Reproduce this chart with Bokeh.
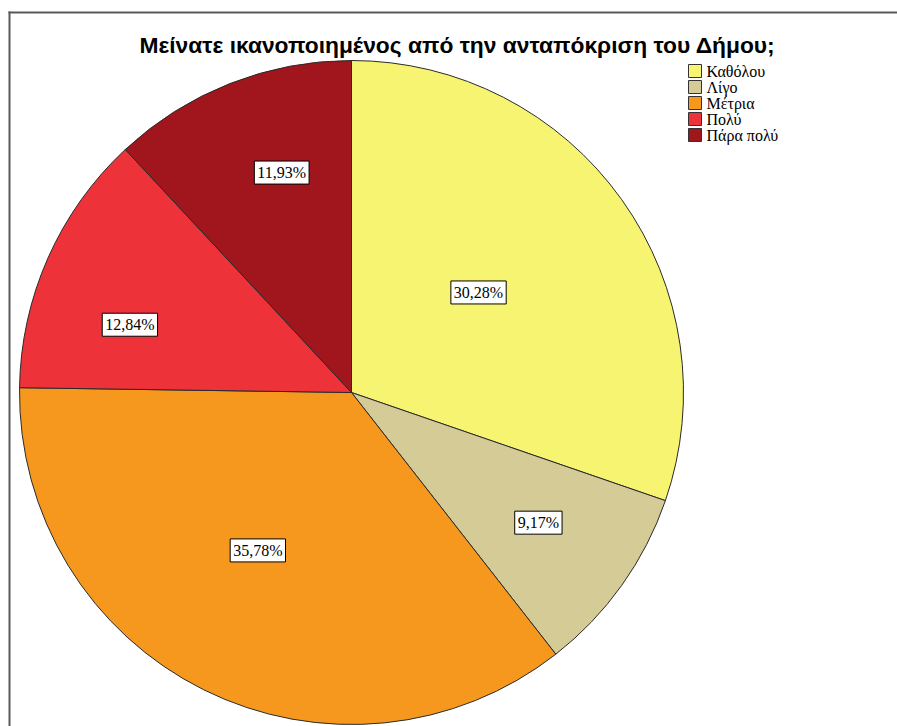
import math
from bokeh.plotting import figure
from bokeh.models import ColumnDataSource, Range1d
from bokeh.core.properties import value
from bokeh.embed import file_html
from bokeh.resources import INLINE

# ---- data ----
title = "Μείνατε ικανοποιημένος από την ανταπόκριση του Δήμου;"
categories = ["Καθόλου", "Λίγο", "Μέτρια", "Πολύ", "Πάρα πολύ"]
percents = [30.28, 9.17, 35.78, 12.84, 11.93]
colors = ["#F7F472", "#D4CB97", "#F7981E", "#EE3239", "#A0161C"]
# label placement inside each slice: fraction of radius, fraction of the slice sweep
label_radius = [0.487, 0.686, 0.553, 0.698, 0.695]
label_sweep = [0.475, 0.48, 0.533, 0.35, 0.59]

# ---- geometry (pixel layout) ----
W, H = 897, 726
R_PX = 332.0
CX, CY = 351, 392          # pie centre in canvas pixels

def px_x(x):
    return (x - CX) / R_PX

def px_y(y):
    return (CY - y) / R_PX

p = figure(width=W, height=H, output_backend="svg", toolbar_location=None,
           x_range=Range1d(px_x(0), px_x(W)), y_range=Range1d(px_y(H), px_y(0)),
           min_border=0)
p.axis.visible = False
p.grid.visible = False
p.outline_line_color = None
p.background_fill_color = "white"
p.border_fill_color = "white"

# wedges
total = sum(percents)
starts, ends, lab_ang = [], [], []
cum = 0.0
for v, f in zip(percents, label_sweep):
    a0 = math.pi / 2 - cum / total * 2 * math.pi
    cum += v
    a1 = math.pi / 2 - cum / total * 2 * math.pi
    starts.append(a0)
    ends.append(a1)
    lab_ang.append(a0 + (a1 - a0) * f)

src = ColumnDataSource(dict(start=starts, end=ends, color=colors, cat=categories))
p.wedge(x=0, y=0, radius=1.0, start_angle="start", end_angle="end",
        direction="clock", fill_color="color", line_color="#2a2a2a",
        line_width=1, source=src)

# slice labels
lab = ColumnDataSource(dict(
    x=[r * math.cos(m) for r, m in zip(label_radius, lab_ang)],
    y=[r * math.sin(m) for r, m in zip(label_radius, lab_ang)],
    text=[("%.2f%%" % v).replace(".", ",") for v in percents],
))
p.text(x="x", y="y", text="text", source=lab,
       text_align="center", text_baseline="middle",
       text_font=value("Liberation Serif"), text_font_size="16px",
       text_color="black", padding=3,
       background_fill_color="white", border_line_color="black",
       border_line_width=1)

# title
p.text(x=[px_x(457)], y=[px_y(44)], text=[title],
       text_align="center", text_baseline="middle",
       text_font=value("Liberation Sans"), text_font_style="bold",
       text_font_size="22.8px", text_color="black")

# legend (manual)
lx = [px_x(694.5)] * len(categories)
ly = [px_y(70.5 + 16 * i) for i in range(len(categories))]
p.rect(x=lx, y=ly, width=13, height=13, width_units="screen", height_units="screen",
       fill_color=colors, line_color="#333333", line_width=1)
p.text(x=[px_x(706)] * len(categories), y=ly, text=categories,
       text_align="left", text_baseline="middle",
       text_font=value("Liberation Serif"), text_font_size="16px", text_color="black")

# frame border lines (left and top), starting at the corner
p.segment(x0=[px_x(9), px_x(8)], y0=[px_y(11), px_y(12)],
          x1=[px_x(9), px_x(W + 5)], y1=[px_y(H + 5), px_y(12)],
          line_color="#5a5a5a", line_width=2)

open("out.html", "w").write(file_html(p, INLINE))
